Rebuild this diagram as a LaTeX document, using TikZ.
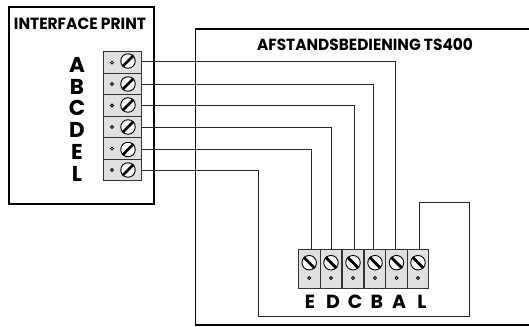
\documentclass[tikz,border=0pt]{standalone}
\usepackage{graphicx}
\usepackage{fontspec}
\setmainfont{Poppins}
\tikzset{
  wire/.style={line width=0.8pt,black!85,line join=miter},
  housing/.style={draw=black,line width=1.8pt,fill=none},
  cell/.style={draw=black!80,line width=0.9pt,fill=black!12,inner sep=0pt,rectangle},
  screw/.style={circle,draw=black,line width=0.9pt,fill=white,minimum size=14.5pt,inner sep=0pt},
  hole/.style={circle,draw=black,line width=0.8pt,fill=white,minimum size=3pt,inner sep=0pt},
  slot/.style={line width=2.8pt,black},
  caption/.style={inner sep=0pt,font=\bfseries},
  biglabel/.style={inner sep=0pt,font=\bfseries\fontsize{21.5}{21.5}\selectfont},
  lowlabel/.style={inner sep=0pt,font=\bfseries\fontsize{19}{19}\selectfont}
}
\begin{document}
\begin{tikzpicture}[x=1pt,y=-1pt]
\useasboundingbox (0,0) rectangle (529,326);
% left housing
\node[housing,draw,rectangle,minimum width=145pt,minimum height=197pt,inner sep=0pt] (iface) at (81.5,105.5) {};
\node[caption] (ifacetitle) at (80,24) {\resizebox{132pt}{11.5pt}{INTERFACE PRINT}};
% left terminal strip
\foreach \n/\y/\wy/\ly in {A/62.6/61/65,B/84/84/86.5,C/105.5/105/108,D/127/127/130,E/148.6/149.5/152,L/170/170/173.5}{
  \node[cell,minimum width=38pt,minimum height=21.5pt] (l\n) at (122,\y) {};
  \node[hole] (lh\n) at (112,\y) {};
  \node[screw] (ls\n) at (128,\wy) {};
  \draw[slot] (ls\n.225) -- (ls\n.45);
  \node[biglabel] (lt\n) at (77,\ly) {\n};
}
% bottom terminal strip
\foreach \n/\x/\wx/\lx in {E/309.2/311/310,D/331/331/333,C/353/354/355,B/375/373/377,A/396.5/395/399,L/418/419/422}{
  \node[cell,minimum width=21.7pt,minimum height=39pt] (r\n) at (\x,268.5) {};
  \node[hole] (rh\n) at (\x,278) {};
  \node[screw] (rs\n) at (\x,262.7) {};
  \draw[slot] (rs\n.135) -- (rs\n.315);
  \node[lowlabel] (rt\n) at (\lx,302) {\n};
  \coordinate (rw\n) at (\wx,249);
}
% wires
\draw[wire] (lA.east |- lsA) -| (rwA);
\draw[wire] (lB.east |- lsB) -| (rwB);
\draw[wire] (lC.east |- lsC) -| (rwC);
\draw[wire] (lD.east |- lsD) -| (rwD);
\draw[wire] (lE.east |- lsE) -| (rwE);
\coordinate (ld1) at (258,170);
\coordinate (ld2) at (258,316);
\coordinate (ld3) at (469,316);
\coordinate (ld4) at (469,202);
\coordinate (ld5) at (419,202);
\draw[wire] (lL.east |- lsL) -- (ld1) -- (ld2) -- (ld3) -- (ld4) -- (ld5) -- (rwL);
% right housing, open at the page edge
\coordinate (h1) at (529,29);
\coordinate (h2) at (195.5,29);
\coordinate (h3) at (195.5,325);
\coordinate (h4) at (529,325);
\draw[black,line width=1.9pt] (h1) -- (h2) -- (h3);
\draw[black,line width=1.1pt] (195,325) -- (h4);
\node[caption] (remotetitle) at (365,44.5) {\resizebox{216pt}{12pt}{AFSTANDSBEDIENING TS400}};
\end{tikzpicture}
\end{document}
